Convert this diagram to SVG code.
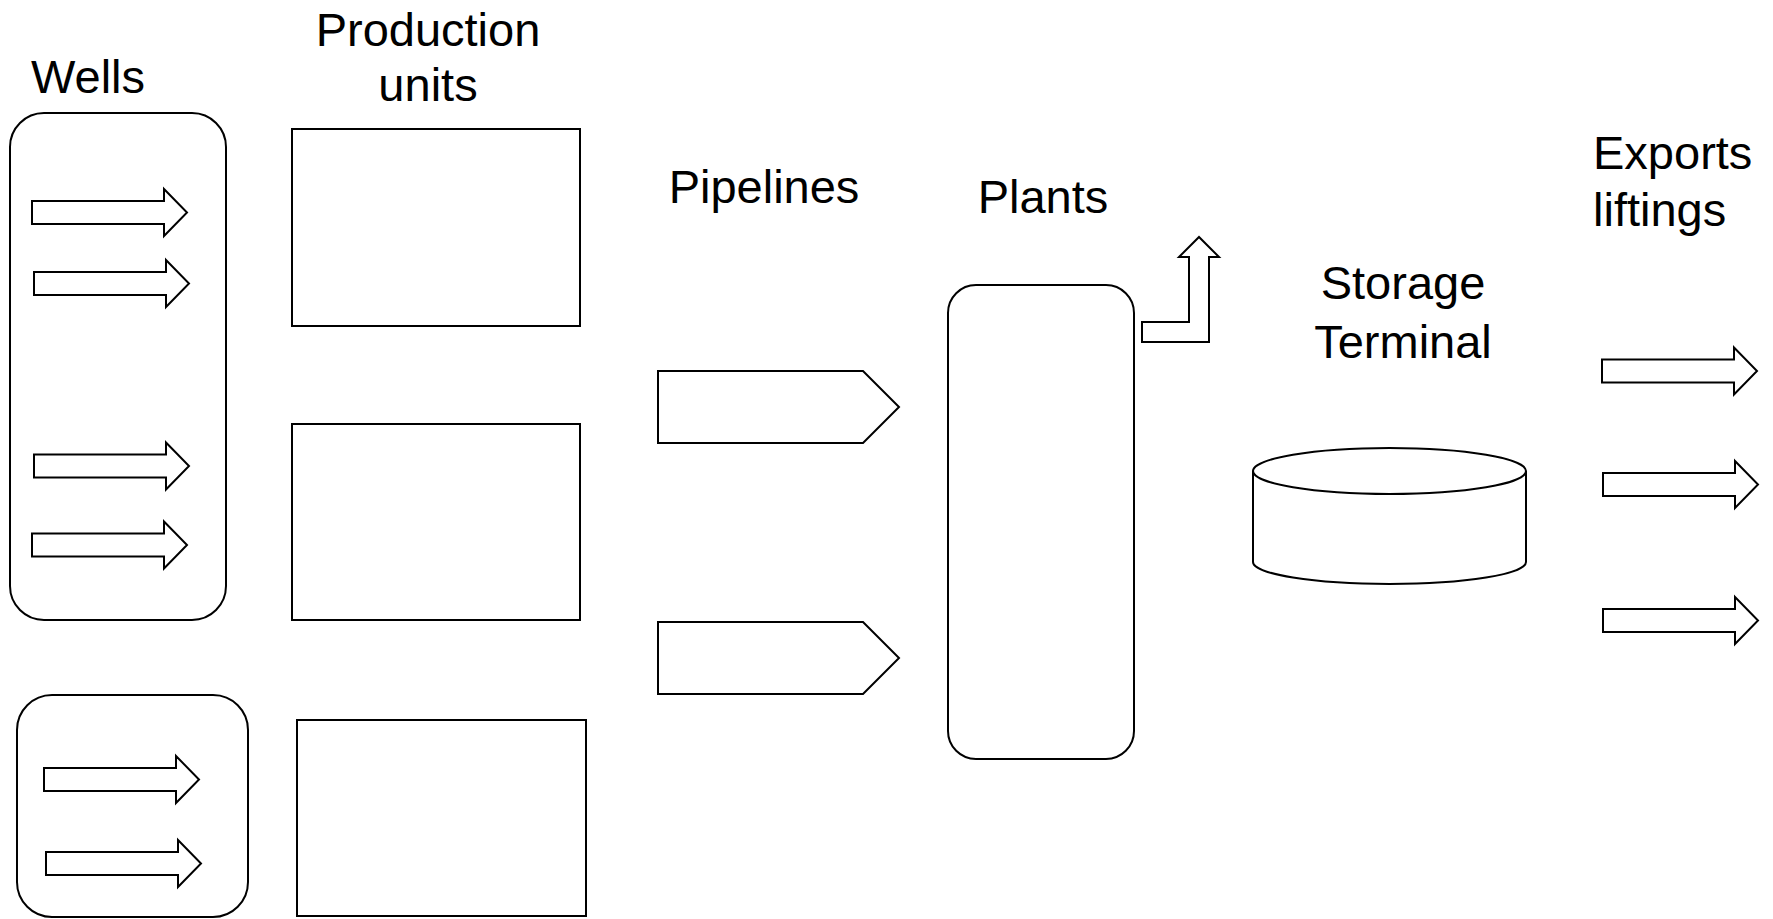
<svg xmlns="http://www.w3.org/2000/svg" xmlns:xlink="http://www.w3.org/1999/xlink" width="1773" height="919" viewBox="0 0 1773 919">
<style>
.s{fill:#fff;stroke:#000;stroke-width:2}
.t{font-family:"Liberation Sans",Arial,sans-serif;font-size:47px;fill:#000}
.c{text-anchor:middle}
</style>
<defs>
<path id="arr" d="M0,-11.5 H132 V-23.5 L155,0 L132,23.5 V11.5 H0 Z"/>
</defs>
<rect width="1773" height="919" fill="#fff"/>
<g id="labels">
<text class="t" x="31" y="93">Wells</text>
<text class="t c" x="428" y="46">Production</text>
<text class="t c" x="428" y="101">units</text>
<text class="t c" x="764" y="203">Pipelines</text>
<text class="t c" x="1043" y="213">Plants</text>
<text class="t c" x="1403" y="299">Storage</text>
<text class="t c" x="1403" y="358">Terminal</text>
<text class="t" x="1593" y="169">Exports</text>
<text class="t" x="1593" y="226">liftings</text>
</g>
<g id="wells1">
<rect class="s" x="10" y="113" width="216" height="507" rx="34"/>
<use href="#arr" class="s" transform="translate(32,212.5)"/>
<use href="#arr" class="s" transform="translate(34,283.5)"/>
<use href="#arr" class="s" transform="translate(34,466)"/>
<use href="#arr" class="s" transform="translate(32,545)"/>
</g>
<g id="wells2">
<rect class="s" x="17" y="695" width="231" height="222" rx="35"/>
<use href="#arr" class="s" transform="translate(44,779.5)"/>
<use href="#arr" class="s" transform="translate(46,863.5)"/>
</g>
<g id="prod1"><rect class="s" x="292" y="129" width="288" height="197"/></g>
<g id="prod2"><rect class="s" x="292" y="424" width="288" height="196"/></g>
<g id="prod3"><rect class="s" x="297" y="720" width="289" height="196"/></g>
<g id="pipe1"><polygon class="s" points="658,371 863,371 899,407 863,443 658,443"/></g>
<g id="pipe2"><polygon class="s" points="658,622 863,622 899,658 863,694 658,694"/></g>
<g id="plants"><rect class="s" x="948" y="285" width="186" height="474" rx="28"/></g>
<g id="plantOut"><path class="s" d="M1142,322 H1189 V257 H1179 L1199,237 L1219,257 H1209 V342 H1142 Z"/></g>
<g id="storage">
<path class="s" d="M1253,471 V562 A136.5,22 0 0 0 1526,562 V471"/>
<ellipse class="s" cx="1389.5" cy="471" rx="136.5" ry="23"/>
</g>
<g id="exports">
<use href="#arr" class="s" transform="translate(1602,371)"/>
<use href="#arr" class="s" transform="translate(1603,484.5)"/>
<use href="#arr" class="s" transform="translate(1603,620.5)"/>
</g>
<g id="connectors"></g>
</svg>
